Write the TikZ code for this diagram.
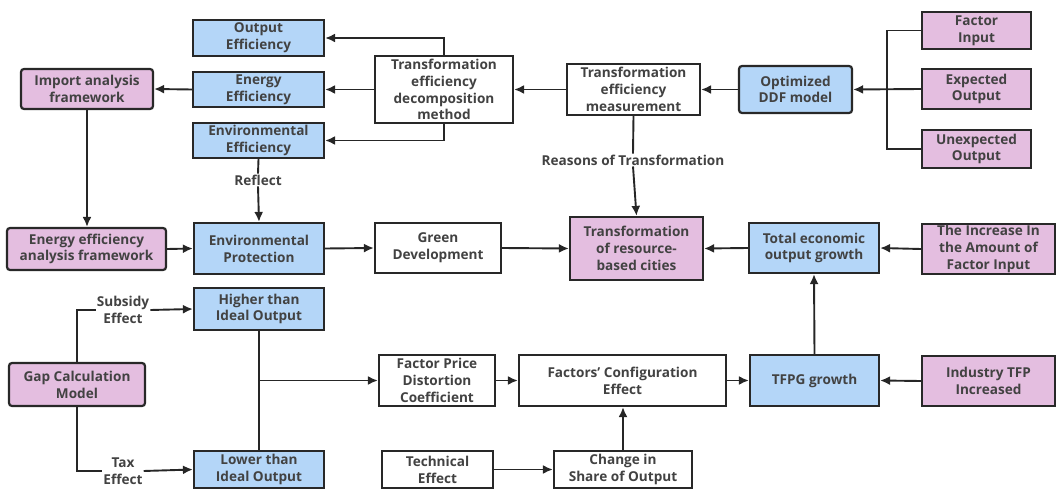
\documentclass[tikz,border=0pt]{standalone}
\usepackage{fontspec}
\setmainfont{Open Sans}
\usepackage{tikz}
\usetikzlibrary{arrows.meta,positioning}
\definecolor{boxblue}{RGB}{180,214,248}
\definecolor{boxpink}{RGB}{228,190,224}
\definecolor{txtgray}{RGB}{66,66,66}
\definecolor{edgegray}{RGB}{40,40,40}

\begin{document}
\begin{tikzpicture}[x=1pt,y=-1pt,
  font=\fontsize{13.6}{16.8}\selectfont\bfseries,
  box/.style={draw=edgegray,line width=2.2pt,align=center,inner sep=0pt,text=txtgray},
  bluebox/.style={box,fill=boxblue},
  pinkbox/.style={box,fill=boxpink},
  plainbox/.style={box,fill=white},
  roundbox/.style={rounded corners=3pt},
  lbl/.style={text=txtgray,align=center,inner sep=1pt,fill=white},
  link/.style={draw=black!85,line width=1.9pt},
  arr/.style={link,-{Latex[length=10pt,width=9pt]}}
]
\useasboundingbox (0,0) rectangle (1057,489);

% top row
\node[bluebox,minimum width=131pt,minimum height=36pt] (outEff) at (258.5,38) {Output\\Efficiency};
\node[bluebox,minimum width=131pt,minimum height=35pt] (enEff) at (258.5,89.5) {Energy\\Efficiency};
\node[bluebox,minimum width=131pt,minimum height=35pt] (envEff) at (258.5,140.5) {Environmental\\Efficiency};
\node[pinkbox,roundbox,minimum width=132pt,minimum height=40pt] (importFw) at (87,89) {Import analysis\\framework};
\node[plainbox,minimum width=138pt,minimum height=67pt] (decomp) at (444,89.5) {Transformation\\efficiency\\decomposition\\method};
\node[plainbox,minimum width=133pt,minimum height=51pt] (measure) at (633.5,89.5) {Transformation\\efficiency\\measurement};
\node[bluebox,roundbox,minimum width=113pt,minimum height=47pt] (ddf) at (795.5,89.5) {Optimized\\DDF model};
\node[pinkbox,minimum width=109pt,minimum height=37pt] (facIn) at (976.5,30.5) {Factor\\Input};
\node[pinkbox,minimum width=109pt,minimum height=40pt] (expOut) at (976.5,89) {Expected\\Output};
\node[pinkbox,minimum width=109pt,minimum height=38pt] (unexpOut) at (976.5,149) {Unexpected\\Output};
\coordinate (brk) at (887,89);

% middle row
\node[pinkbox,roundbox,minimum width=159pt,minimum height=42pt] (energyFw) at (86.5,249) {Energy efficiency\\analysis framework};
\node[bluebox,minimum width=130pt,minimum height=51pt] (envProt) at (259,248.5) {Environmental\\Protection};
\node[plainbox,minimum width=126pt,minimum height=50pt] (greenDev) at (438,248) {Green\\Development};
\node[pinkbox,minimum width=133pt,minimum height=63pt] (resCity) at (636.5,248.5) {Transformation\\of resource-\\based cities};
\node[bluebox,minimum width=130pt,minimum height=50pt] (totOut) at (814,248) {Total economic\\output growth};
\node[pinkbox,minimum width=133pt,minimum height=50pt] (incInput) at (988.5,249) {The Increase In\\the Amount of\\Factor Input};
\node[lbl] (reflect) at (258,180) {Reflect};
\node[lbl] (reasons) at (633,160) {Reasons of Transformation};

% bottom rows
\node[bluebox,minimum width=130pt,minimum height=42pt] (higher) at (259,309) {Higher than\\Ideal Output};
\node[pinkbox,roundbox,minimum width=136pt,minimum height=43pt] (gapModel) at (77,384.5) {Gap Calculation\\Model};
\node[bluebox,minimum width=130pt,minimum height=37pt] (lower) at (259,469.5) {Lower than\\Ideal Output};
\node[plainbox,minimum width=116pt,minimum height=51pt] (fpdc) at (437,380.5) {Factor Price\\Distortion\\Coefficient};
\node[plainbox,minimum width=207pt,minimum height=51pt] (fce) at (622.5,380.5) {Factors' Configuration\\Effect};
\node[bluebox,minimum width=129pt,minimum height=51pt] (tfpg) at (814.5,380.5) {TFPG growth};
\node[pinkbox,minimum width=133pt,minimum height=50pt] (industry) at (988.5,381) {Industry TFP\\Increased};
\node[plainbox,minimum width=111pt,minimum height=37pt] (techEff) at (437.5,469.5) {Technical\\Effect};
\node[plainbox,minimum width=138pt,minimum height=37pt] (shareOut) at (623,469.5) {Change in\\Share of Output};
\node[lbl] (subsidy) at (123,310) {Subsidy\\Effect};
\node[lbl] (tax) at (123,471) {Tax\\Effect};
\coordinate (jn) at (259,380.5);

% connectors
\draw[arr] (decomp.north) |- (outEff.east);
\draw[arr] (decomp.west) -- (enEff.east);
\draw[arr] (decomp.south) |- (envEff.east);
\draw[arr] (measure.west) -- (decomp.east);
\draw[arr] (ddf.west) -- (measure.east);
\draw[link] (facIn.west) -| (brk) |- (unexpOut.west);
\draw[arr] (expOut.west) -- (ddf.east);
\draw[arr] (enEff.west) -- (importFw.east);
\draw[arr] (importFw.south) -- (importFw.south |- energyFw.north);
\draw[link] (envEff.south) -- (reflect.north);
\draw[arr] (reflect.south) -- (envProt.north);
\draw[arr] (energyFw.east) -- (envProt.west);
\draw[arr] (envProt.east) -- (greenDev.west);
\draw[arr] (greenDev.east) -- (resCity.west);
\draw[link] (measure.south) -- (reasons.north);
\draw[arr] (reasons.south) -- (resCity.north);
\draw[arr] (totOut.west) -- (resCity.east);
\draw[arr] (incInput.west) -- (totOut.east);
\draw[arr] (tfpg.north) -- (totOut.south);
\draw[arr] (industry.west) -- (tfpg.east);
\draw[arr] (fce.east) -- (tfpg.west);
\draw[arr] (fpdc.east) -- (fce.west);
\draw[arr] (shareOut.north) -- (shareOut.north |- fce.south);
\draw[arr] (techEff.east) -- (shareOut.west);
\draw[link] (gapModel.north) |- (subsidy.west);
\draw[arr] (subsidy.east) -- (higher.west);
\draw[link] (gapModel.south) |- (tax.west);
\draw[arr] (tax.east) -- (lower.west);
\draw[link] (higher.south) -- (lower.north);
\draw[arr] (jn) -- (fpdc.west);
\end{tikzpicture}
\end{document}
